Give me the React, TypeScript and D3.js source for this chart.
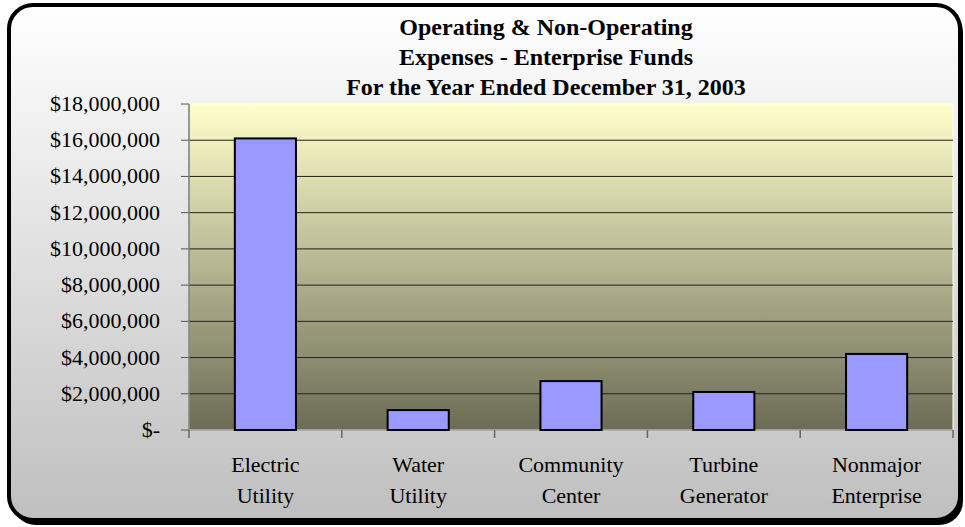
import React from "react";
import * as d3 from "d3";

const categories = [
  ["Electric", "Utility"],
  ["Water", "Utility"],
  ["Community", "Center"],
  ["Turbine", "Generator"],
  ["Nonmajor", "Enterprise"],
];
const values = [16100000, 1100000, 2700000, 2100000, 4200000];
const tickValues = [0, 2000000, 4000000, 6000000, 8000000, 10000000, 12000000, 14000000, 16000000, 18000000];
const titleLines = [
  "Operating & Non-Operating",
  "Expenses - Enterprise Funds",
  "For the Year Ended December 31, 2003",
];

const W = 965;
const H = 527;
const plot = { left: 189, right: 953, top: 104, bottom: 430 };

const fmt = (v: number) => (v === 0 ? "$-" : "$" + d3.format(",")(v));

export default function App() {
  const x = d3
    .scaleBand<number>()
    .domain(d3.range(categories.length))
    .range([plot.left, plot.right])
    .paddingInner(0.6)
    .paddingOuter(0.3);
  const band = (plot.right - plot.left) / categories.length;
  const y = d3.scaleLinear().domain([0, 18000000]).range([plot.bottom, plot.top]);
  const font = "'Liberation Serif', 'Times New Roman', Times, serif";

  return (
    <div style={{ position: "absolute", left: 0, top: 0 }}>
      <svg width={W} height={H} style={{ display: "block" }}>
        <defs>
          <linearGradient id="bg" x1="0" y1="0" x2="0" y2="1">
            <stop offset="0" stopColor="#ffffff" />
            <stop offset="1" stopColor="#bfbfbf" />
          </linearGradient>
          <linearGradient id="pa" x1="0" y1="0" x2="0" y2="1">
            <stop offset="0" stopColor="#ffffcc" />
            <stop offset="1" stopColor="#6c6c56" />
          </linearGradient>
        </defs>
        <rect x={12} y={8} width={951} height={517} rx={24} ry={24} fill="#000" />
        <rect x={9} y={5} width={951} height={515} rx={24} ry={24} fill="url(#bg)" stroke="#000" strokeWidth={4} />
        {titleLines.map((t, i) => (
          <text
            key={i}
            x={546}
            y={35 + i * 30}
            textAnchor="middle"
            fontFamily={font}
            fontWeight="bold"
            fontSize={24}
            fill="#000"
          >
            {t}
          </text>
        ))}
        <rect
          x={plot.left}
          y={plot.top}
          width={plot.right - plot.left}
          height={plot.bottom - plot.top}
          fill="url(#pa)"
          stroke="#fffff0"
          strokeWidth={1}
        />
        {tickValues.map((v) => (
          <g key={v}>
            {v > 0 && v < 18000000 && (
              <line x1={plot.left} x2={plot.right} y1={y(v)} y2={y(v)} stroke="#222" strokeWidth={1} />
            )}
            <line x1={plot.left - 8} x2={plot.left} y1={y(v)} y2={y(v)} stroke="#555" strokeWidth={1} />
            <text
              x={160}
              y={y(v) + 7}
              textAnchor="end"
              fontFamily={font}
              fontSize={22}
              fill="#000"
            >
              {fmt(v)}
            </text>
          </g>
        ))}
        <line x1={plot.left} x2={plot.left} y1={plot.top} y2={plot.bottom} stroke="#777" strokeWidth={1.5} />
        <line x1={plot.left} x2={plot.right} y1={plot.bottom} y2={plot.bottom} stroke="#999" strokeWidth={1.5} />
        {d3.range(categories.length + 1).map((i) => (
          <line
            key={i}
            x1={plot.left + i * band}
            x2={plot.left + i * band}
            y1={plot.bottom}
            y2={plot.bottom + 8}
            stroke="#666"
            strokeWidth={1.5}
          />
        ))}
        {values.map((v, i) => (
          <rect
            key={i}
            x={x(i)!}
            y={y(v)}
            width={x.bandwidth()}
            height={y(0) - y(v)}
            fill="#9999ff"
            stroke="#000"
            strokeWidth={2}
          />
        ))}
        {categories.map((c, i) =>
          c.map((line, j) => (
            <text
              key={i + "-" + j}
              x={plot.left + (i + 0.5) * band}
              y={472 + j * 31}
              textAnchor="middle"
              fontFamily={font}
              fontSize={22}
              fill="#000"
            >
              {line}
            </text>
          ))
        )}
      </svg>
    </div>
  );
}
